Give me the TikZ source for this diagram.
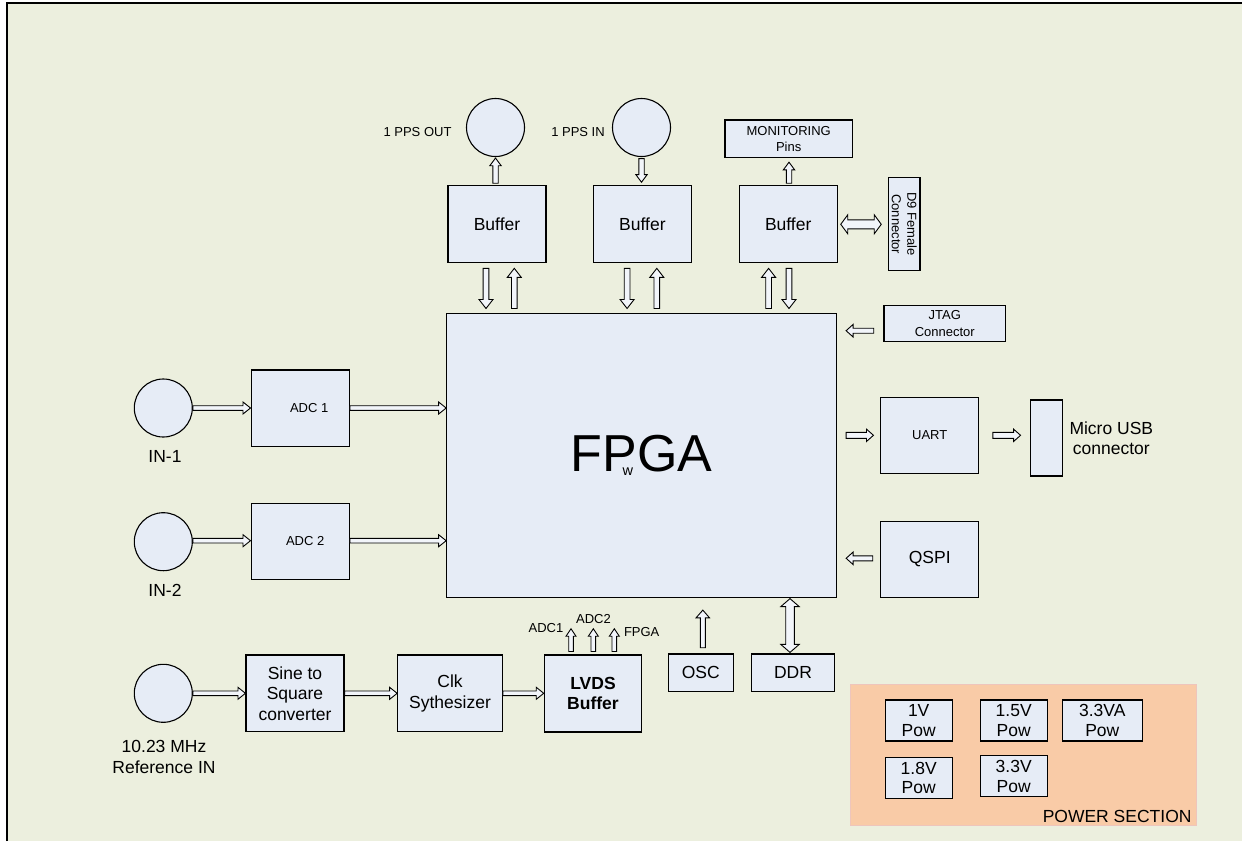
\documentclass[tikz,border=0pt]{standalone}
\usepackage{fontspec}
\setmainfont{Liberation Sans}
\usetikzlibrary{calc}
\definecolor{bgc}{HTML}{ECEFDE}
\definecolor{boxc}{HTML}{E6ECF6}
\definecolor{powc}{HTML}{F9CBA7}
\definecolor{powb}{HTML}{EEC5BC}
\definecolor{arrc}{HTML}{F2F5FA}
\newcommand\fbig{\fontsize{17.5}{20.5}\selectfont}
\newcommand\fsml{\fontsize{13}{16.5}\selectfont}
\newcommand\fpow{\fontsize{17.5}{19.3}\selectfont}
\tikzset{
  shaft/.store in=\ashaft, headw/.store in=\aheadw, headl/.store in=\aheadl,
  shaft=3pt, headw=7pt, headl=8pt,
  arr/.style={draw=black, fill=arrc, line width=0.9pt, line join=miter},
  box/.style={draw=black, fill=boxc, line width=1.1pt, inner sep=0pt, align=center, font=\fbig},
  sbox/.style={box, font=\fsml},
  pbox/.style={box, font=\fpow, minimum width=67.3pt, minimum height=41pt},
  port/.style={circle, draw=black, fill=boxc, line width=1.1pt, minimum size=58pt, inner sep=0pt},
  lbl/.style={inner sep=0pt, align=center, font=\fbig},
  slbl/.style={inner sep=0pt, align=center, font=\fsml},
}
\newcommand\barrow[3][]{%
  \begin{scope}[#1]
  \coordinate (ba) at (#2);
  \coordinate (bb) at (#3);
  \coordinate (bh) at ($(bb)!\aheadl!(ba)$);
  \draw[arr] ($(ba)!\ashaft!90:(bb)$) -- ($(bh)!\ashaft!-90:(ba)$) -- ($(bh)!\aheadw!-90:(ba)$) -- (bb)
     -- ($(bh)!\aheadw!90:(ba)$) -- ($(bh)!\ashaft!90:(ba)$) -- ($(ba)!\ashaft!-90:(bb)$) -- cycle;
  \end{scope}}
\newcommand\bdarrow[3][]{%
  \begin{scope}[#1]
  \coordinate (ba) at (#2);
  \coordinate (bb) at (#3);
  \coordinate (bh) at ($(bb)!\aheadl!(ba)$);
  \coordinate (bg) at ($(ba)!\aheadl!(bb)$);
  \draw[arr] (ba) -- ($(bg)!\aheadw!90:(bb)$) -- ($(bg)!\ashaft!90:(bb)$) -- ($(bh)!\ashaft!-90:(ba)$)
     -- ($(bh)!\aheadw!-90:(ba)$) -- (bb) -- ($(bh)!\aheadw!90:(ba)$) -- ($(bh)!\ashaft!90:(ba)$)
     -- ($(bg)!\ashaft!-90:(bb)$) -- ($(bg)!\aheadw!-90:(bb)$) -- cycle;
  \end{scope}}
\begin{document}
\begin{tikzpicture}[x=1pt,y=-1pt]
\useasboundingbox (0,0) rectangle (1242,841);
\fill[white] (0,0) rectangle (1242,841);
\fill[bgc] (7,3) rectangle (1242,841);
\draw[line width=2.3pt] (7.2,841) -- (7.2,2.9) -- (1242,2.9);

% power section
\draw[draw=powb, fill=powc, line width=0.8pt] (850,684.3) rectangle (1196.7,825);

% main blocks
\node[box, minimum width=390pt, minimum height=284.3pt] (fpga) at (641.7,455.2)
  {\fontsize{52}{52}\selectfont FP\rlap{\kern-14.8pt\raisebox{-4pt}{\fontsize{14.5}{14.5}\selectfont w}}GA};

\node[port] (c1) at (495.5,127.5) {};
\node[port] (c2) at (641.5,127.5) {};
\node[slbl] (lpo) at (417.5,131.7) {1 PPS OUT};
\node[slbl] (lpi) at (578,131.7) {1 PPS IN};
\node[sbox, minimum width=127.5pt, minimum height=37.7pt] (mon) at (788.7,138.8) {MONITORING\\Pins};

\node[box, minimum width=98pt, minimum height=77pt] (b1) at (497,224.3) {Buffer};
\node[box, minimum width=98pt, minimum height=77pt] (b2) at (642.4,224.3) {Buffer};
\node[box, minimum width=98pt, minimum height=77pt] (b3) at (788.2,224.3) {Buffer};
\node[sbox, rotate=-90, minimum width=93pt, minimum height=31.4pt, font=\fontsize{13}{15.5}\selectfont] (d9) at (904.3,224.2) {D9 Female\\Connector};

\node[sbox, minimum width=121.7pt, minimum height=36pt] (jtag) at (944.8,323.7) {JTAG\\Connector};
\node[sbox, minimum width=98pt, minimum height=76pt] (uart) at (929.7,435.3) {UART};
\node[box, minimum width=32pt, minimum height=76pt] (usb) at (1046.7,438) {};
\node[lbl, anchor=west] (lusb) at (1069.3,438) {Micro USB\\connector};
\node[box, minimum width=98pt, minimum height=76.4pt] (qspi) at (929.7,559.5) {QSPI};

\node[port] (in1) at (163.3,408) {};
\node[port] (in2) at (163.3,541.7) {};
\node[port] (ref) at (163.3,693.3) {};
\node[lbl] (lin1) at (165,456.7) {IN-1};
\node[lbl] (lin2) at (165,590) {IN-2};
\node[lbl] (lref) at (164,757) {10.23 MHz\\Reference IN};

\node[sbox, minimum width=98.3pt, minimum height=76.7pt] (adc1) at (300.2,408.3) {\hspace*{18pt}ADC 1};
\node[sbox, minimum width=98.3pt, minimum height=76pt] (adc2) at (300.2,541.3) {\hspace*{10pt}ADC 2};

\node[box, minimum width=98pt, minimum height=76.7pt] (sine) at (295,693.3) {Sine to\\Square\\converter};
\node[box, minimum width=104.6pt, minimum height=76.7pt] (clk) at (450,693.3) {Clk\\Sythesizer};
\node[box, minimum width=97.4pt, minimum height=77pt, font=\fbig\bfseries] (lvds) at (593,693.5) {LVDS\\Buffer};
\node[box, minimum width=65pt, minimum height=37.7pt] (osc) at (700.8,672.8) {OSC};
\node[box, minimum width=82.6pt, minimum height=37.7pt] (ddr) at (793,672.8) {DDR};
\node[slbl] (la1) at (546,627.7) {ADC1};
\node[slbl] (la2) at (593.5,619) {ADC2};
\node[slbl] (lfp) at (641.7,632.3) {FPGA};

% power boxes
\node[pbox] (p1) at (918.7,720.5) {1V\\Pow};
\node[pbox] (p15) at (1013.7,720.5) {1.5V\\Pow};
\node[pbox, minimum width=80pt] (p33a) at (1102.3,720.5) {3.3VA\\Pow};
\node[pbox] (p18) at (918.7,777.8) {1.8V\\Pow};
\node[pbox] (p33) at (1013.7,776.4) {3.3V\\Pow};
\node[lbl, anchor=east] (lpow) at (1191.7,816) {POWER SECTION};

% arrows top
\barrow[shaft=2.7pt,headw=5.7pt,headl=7.7pt]{$(c1.south|-b1.north)+(0,-2)$}{$(c1.south)+(0,1)$}
\barrow[shaft=2.7pt,headw=5.7pt,headl=7.7pt]{$(c2.south)+(0,1.5)$}{$(c2.south|-b2.north)+(0,-3)$}
\barrow[shaft=2.7pt,headw=5.7pt,headl=7.7pt]{$(b3.north)+(0.8,-2)$}{$(mon.south)+(0.3,4)$}
\bdarrow[shaft=4.5pt,headw=9.5pt,headl=7pt]{$(b3.east)+(3,0)$}{$(b3.east-|d9.south)+(-6.8,0)$}

% buffer <-> fpga
\barrow[shaft=2.85pt,headw=7pt,headl=9pt]{$(b1.south)+(-11,5)$}{$(b1.south|-fpga.north)+(-11,-4)$}
\barrow[shaft=2.85pt,headw=7pt,headl=9pt]{$(b1.south|-fpga.north)+(17.3,-4)$}{$(b1.south)+(17.3,5)$}
\barrow[shaft=2.85pt,headw=7pt,headl=9pt]{$(b2.south)+(-15.3,5)$}{$(b2.south|-fpga.north)+(-15.3,-4)$}
\barrow[shaft=2.85pt,headw=7pt,headl=9pt]{$(b2.south|-fpga.north)+(14.4,-4)$}{$(b2.south)+(14.4,5)$}
\barrow[shaft=2.85pt,headw=7pt,headl=9pt]{$(b3.south|-fpga.north)+(-19.6,-4)$}{$(b3.south)+(-19.6,5)$}
\barrow[shaft=2.85pt,headw=7pt,headl=9pt]{$(b3.south)+(0.8,5)$}{$(b3.south|-fpga.north)+(0.8,-4)$}

% inputs
\barrow[shaft=2.3pt,headw=6pt,headl=7.5pt]{in1.east}{in1.east-|adc1.west}
\barrow[shaft=2.3pt,headw=6pt,headl=7.5pt]{in1.east-|adc1.east}{in1.east-|fpga.west}
\barrow[shaft=2.3pt,headw=6pt,headl=7.5pt]{$(in2.east)+(0,-1)$}{$(in2.east-|adc2.west)+(0,-1)$}
\barrow[shaft=2.3pt,headw=6pt,headl=7.5pt]{$(in2.east-|adc2.east)+(0,-1)$}{$(in2.east-|fpga.west)+(0,-1)$}
\barrow[shaft=2.3pt,headw=6pt,headl=7.5pt]{ref.east}{sine.west}
\barrow[shaft=2.3pt,headw=6pt,headl=7.5pt]{sine.east}{clk.west}
\barrow[shaft=2.3pt,headw=6pt,headl=7.5pt]{clk.east}{clk.east-|lvds.west}

% lvds outputs
\barrow[shaft=2.3pt,headw=5pt,headl=7.5pt]{$(lvds.north)+(-22,-3)$}{$(lvds.north)+(-22,-25.7)$}
\barrow[shaft=2.3pt,headw=5pt,headl=7.5pt]{$(lvds.north)+(0.3,-3)$}{$(lvds.north)+(0.3,-25.7)$}
\barrow[shaft=2.3pt,headw=5pt,headl=7.5pt]{$(lvds.north)+(21.3,-3)$}{$(lvds.north)+(21.3,-25.7)$}

% osc, ddr
\barrow[shaft=2.5pt,headw=6.7pt,headl=7.7pt]{$(osc.north)+(2,-5.7)$}{$(osc.north)+(2,-43.3)$}
\bdarrow[shaft=4.3pt,headw=9.2pt,headl=8pt]{$(fpga.south-|ddr.north)+(-3,0.7)$}{$(ddr.north)+(-3,-1)$}

% right side
\barrow[shaft=2.5pt,headw=6.3pt,headl=7pt]{$(jtag.west)+(-9.7,7)$}{$(jtag.west)+(-37.3,7)$}
\barrow[shaft=3pt,headw=6.2pt,headl=7pt]{$(uart.west)+(-34,0)$}{$(uart.west)+(-6.7,0)$}
\barrow[shaft=3pt,headw=6.2pt,headl=7pt]{$(uart.east)+(13.6,0)$}{$(uart.east)+(41.3,0)$}
\barrow[shaft=2.5pt,headw=6.3pt,headl=7pt]{$(qspi.west)+(-7.4,-1.2)$}{$(qspi.west)+(-34,-1.2)$}
\end{tikzpicture}
\end{document}
